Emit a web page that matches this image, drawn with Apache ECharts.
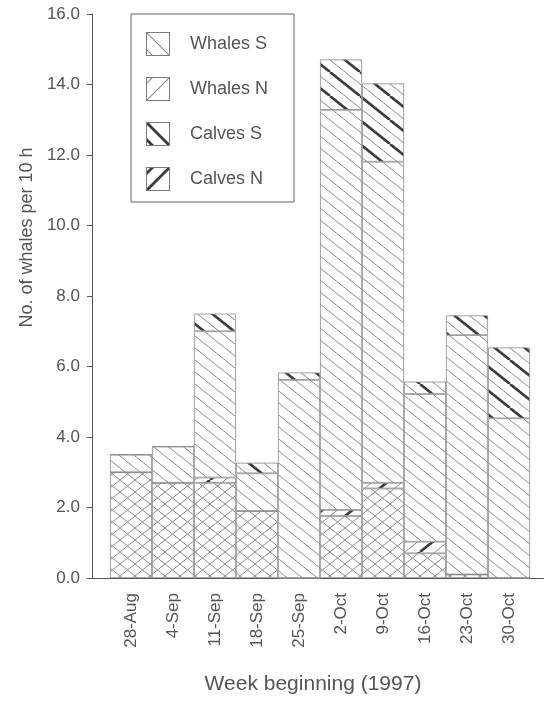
<!DOCTYPE html>
<html>
<head>
<meta charset="utf-8">
<script src="https://cdn.jsdelivr.net/npm/echarts@6.0.0/dist/echarts.min.js"></script>
<style>
  html, body { margin: 0; padding: 0; background: #fff; }
  #chart { width: 544px; height: 702px; }
</style>
</head>
<body>
<div id="chart"></div>
<script>
// weekly counts (stack order bottom -> top)
const weeks = ['28-Aug', '4-Sep', '11-Sep', '18-Sep', '25-Sep', '2-Oct', '9-Oct', '16-Oct', '23-Oct', '30-Oct'];
const whalesN = [3.0, 2.7, 2.7, 1.9, 0.0, 1.76, 2.54, 0.7, 0.1, 0.0];
const calvesN = [0, 0, 0.15, 0, 0, 0.17, 0.16, 0.33, 0, 0];
const whalesS = [0.5, 1.03, 4.15, 1.07, 5.62, 11.35, 9.11, 4.19, 6.79, 4.53];
const calvesS = [0, 0, 0.5, 0.3, 0.21, 1.43, 2.22, 0.35, 0.56, 2.01];
const yMin = 0, yMax = 16, yStep = 2;

const font = 'Liberation Sans, Arial, sans-serif';
const txt = '#555';
const edge = '#8a8a8a';

// hatch fills drawn on small canvases
function hatch(dir, thick, cross) {
    const h = thick ? 24 : 12;
    const run = h * 1.25;
    const w = run;
    const c = document.createElement('canvas');
    c.width = w; c.height = h;
    const ctx = c.getContext('2d');
    ctx.fillStyle = '#fff';
    ctx.fillRect(0, 0, w, h);
    const dirs = cross ? ['back', 'fwd'] : [dir];
    dirs.forEach(function (d) {
        for (let k = -2; k <= 2; k++) {
            const x0 = k * 15;
            const bold = thick && k % 2 === 0;
            ctx.strokeStyle = bold ? '#3c3c3c' : '#8a8a8a';
            ctx.lineWidth = bold ? 2.6 : 1;
            ctx.beginPath();
            if (d === 'back') { ctx.moveTo(x0, 0); ctx.lineTo(x0 + run, h); }
            else { ctx.moveTo(x0, h); ctx.lineTo(x0 + run, 0); }
            ctx.stroke();
        }
    });
    return { image: c, repeat: 'repeat' };
}

// legend swatch: boxed square with one diagonal and a corner stroke
function swatch(dir, thick) {
    const s = 24;
    const c = document.createElement('canvas');
    c.width = s; c.height = s;
    const ctx = c.getContext('2d');
    ctx.fillStyle = '#fff';
    ctx.fillRect(0, 0, s, s);
    ctx.save();
    ctx.beginPath();
    ctx.rect(0, 0, s, s);
    ctx.clip();
    ctx.strokeStyle = thick ? '#3c3c3c' : '#8a8a8a';
    ctx.lineWidth = thick ? 2.8 : 1.1;
    [0, -17].forEach(function (off) {
        ctx.beginPath();
        if (dir === 'back') { ctx.moveTo(off, 0); ctx.lineTo(off + s, s); }
        else { ctx.moveTo(off, s); ctx.lineTo(off + s, 0); }
        ctx.stroke();
    });
    ctx.restore();
    ctx.strokeStyle = '#7a7a7a';
    ctx.lineWidth = 1;
    ctx.strokeRect(0.5, 0.5, s - 1, s - 1);
    return 'image://' + c.toDataURL();
}

const patWS = hatch('back', false);
const patCS = hatch('back', true);
const patCN = hatch('fwd', true);
const patCross = hatch('back', false, true);

function barSeries(name, data, fill) {
    return {
        name: name,
        type: 'bar',
        stack: 'all',
        barCategoryGap: '0%',
        data: data,
        itemStyle: { color: fill, borderColor: edge, borderWidth: 0.8 },
        emphasis: { disabled: true }
    };
}

const chart = echarts.init(document.getElementById('chart'), null, { renderer: 'canvas' });
chart.setOption({
    animation: false,
    backgroundColor: '#fff',
    textStyle: { fontFamily: font },
    legend: {
        orient: 'vertical',
        left: 131,
        top: 14,
        padding: [18, 26, 11, 15],
        itemWidth: 24,
        itemHeight: 24,
        itemGap: 21,
        selectedMode: false,
        borderColor: '#666',
        borderWidth: 1,
        textStyle: { fontFamily: font, fontSize: 18, color: txt, padding: [0, 0, 0, 15] },
        data: [
            { name: 'Whales S', icon: swatch('back', false) },
            { name: 'Whales N', icon: swatch('fwd', false) },
            { name: 'Calves S', icon: swatch('back', true) },
            { name: 'Calves N', icon: swatch('fwd', true) }
        ]
    },
    grid: [
        { left: 110, right: 14, top: 14, bottom: 124 },
        { left: 92, right: 0, top: 14, bottom: 124 }
    ],
    xAxis: [
        {
            type: 'category',
            data: weeks,
            gridIndex: 0,
            axisLine: { show: false },
            axisTick: { show: false },
            axisLabel: { interval: 0, rotate: 90, margin: 15, fontSize: 17, color: txt, fontFamily: font },
            name: 'Week beginning (1997)',
            nameLocation: 'middle',
            nameGap: 96,
            nameTextStyle: { fontSize: 21, color: txt, fontFamily: font, padding: [0, 14, 0, 0] }
        },
        {
            type: 'value',
            gridIndex: 1,
            min: 0,
            max: 1,
            axisLine: { show: true, lineStyle: { color: '#555', width: 1 } },
            axisTick: { show: false },
            axisLabel: { show: false },
            splitLine: { show: false }
        }
    ],
    yAxis: [
        {
            type: 'value',
            gridIndex: 0,
            min: yMin,
            max: yMax,
            interval: yStep,
            offset: 18,
            axisLine: { show: true, lineStyle: { color: '#555', width: 1 } },
            axisTick: { show: true, length: 5, lineStyle: { color: '#555' } },
            splitLine: { show: false },
            axisLabel: {
                margin: 12, fontSize: 17, color: txt, fontFamily: font,
                formatter: function (v) { return v.toFixed(1); }
            },
            name: 'No. of whales per 10 h',
            nameLocation: 'middle',
            nameRotate: 90,
            nameGap: 56,
            nameTextStyle: { fontSize: 18, color: txt, fontFamily: font, padding: [0, 0, 0, 117] }
        },
        { type: 'value', gridIndex: 1, show: false, min: 0, max: 1 }
    ],
    series: [
        barSeries('Whales N', whalesN, patCross),
        barSeries('Calves N', calvesN, patCN),
        barSeries('Whales S', whalesS, patWS),
        barSeries('Calves S', calvesS, patCS)
    ]
});
</script>
</body>
</html>
